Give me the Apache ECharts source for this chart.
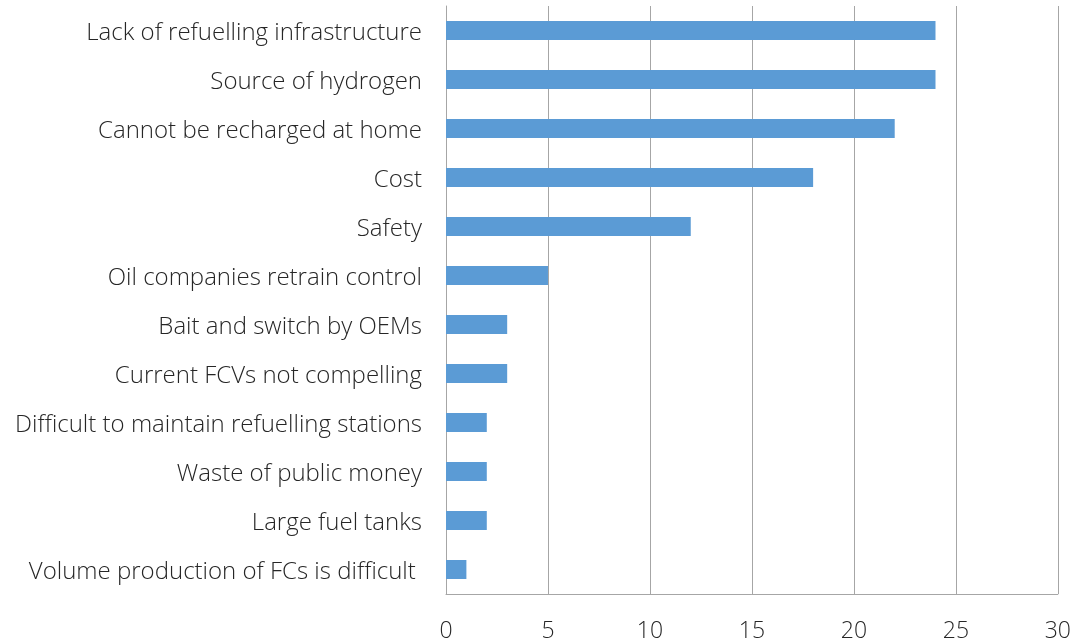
<!DOCTYPE html>
<html>
<head>
<meta charset="utf-8">
<style>
  html, body { margin: 0; padding: 0; background: #fff; }
  #chart { width: 1074px; height: 643px; }
</style>
<script src="https://cdn.jsdelivr.net/npm/echarts@6/dist/echarts.min.js"></script>
</head>
<body>
<div id="chart"></div>
<script>
// categories listed bottom to top (category axis starts at the bottom)
var categories = [
    'Volume production of FCs is difficult ',
    'Large fuel tanks',
    'Waste of public money',
    'Difficult to maintain refuelling stations',
    'Current FCVs not compelling',
    'Bait and switch by OEMs',
    'Oil companies retrain control',
    'Safety',
    'Cost',
    'Cannot be recharged at home',
    'Source of hydrogen',
    'Lack of refuelling infrastructure'
];
var counts = [1, 2, 2, 2, 3, 3, 5, 12, 18, 22, 24, 24];
var xTicks = [0, 30, 5]; // min, max, interval

var chart = echarts.init(document.getElementById('chart'));
var font = '"Open Sans", Lato, sans-serif';

var option = {
    animation: false,
    grid: {
        left: 446,
        right: 16,
        top: 6,
        bottom: 46
    },
    xAxis: {
        type: 'value',
        min: xTicks[0],
        max: xTicks[1],
        interval: xTicks[2],
        axisLine: { show: true, lineStyle: { color: '#a6a6a6', width: 1 } },
        axisTick: { show: false },
        splitLine: { show: true, lineStyle: { color: '#a6a6a6', width: 1 } },
        axisLabel: {
            color: '#262626',
            fontFamily: font,
            fontWeight: 300,
            fontSize: 23,
            margin: 26
        }
    },
    yAxis: {
        type: 'category',
        data: categories,
        axisLine: { show: true, lineStyle: { color: '#a6a6a6', width: 1 } },
        axisTick: { show: false },
        axisLabel: {
            margin: 24,
            formatter: function (v) { return '{c|' + v + '}'; },
            rich: {
                c: {
                    color: '#262626',
                    fontFamily: font,
                    fontWeight: 300,
                    fontSize: 24,
                    padding: [6, 0, 0, 0]
                }
            }
        }
    },
    series: [{
        type: 'bar',
        data: counts,
        barWidth: 19,
        itemStyle: { color: '#5b9bd5' }
    }]
};

chart.setOption(option);
</script>
</body>
</html>
